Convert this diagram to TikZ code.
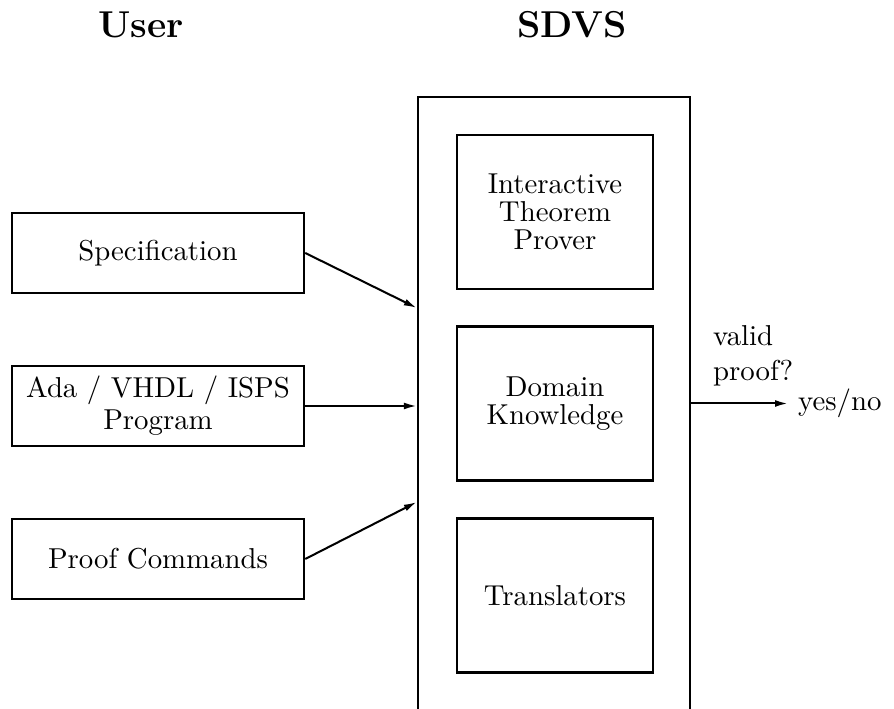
\documentclass[tikz,border=0pt]{standalone}
\usetikzlibrary{arrows.meta,positioning,calc}
\begin{document}
\begin{tikzpicture}[x=0.3472pt, y=-0.3472pt,
    box/.style={draw, line width=0.85pt, minimum width=101.4pt, minimum height=27.6pt, align=center, inner sep=0pt},
    part/.style={draw, line width=0.85pt, minimum width=68pt, minimum height=53.5pt, align=center, font=\fontsize{10}{9.8}\selectfont},
    title/.style={font=\fontsize{13}{15}\selectfont\bfseries, anchor=base},
    feed/.style={-{Latex[length=4.5pt,width=2.4pt]}, line width=0.7pt}]
  \useasboundingbox (0,0) rectangle (894,709);
  \clip (0,0) rectangle (894,709);

  \node[title] (user) at (141,38) {User};
  \node[title] (sys) at (572,38) {SDVS};

  % the SDVS frame runs off the bottom edge
  \node[draw, line width=0.85pt, minimum width=94.4pt, minimum height=222pt, anchor=north] (sdvs) at (554,96) {};
  \node[part] (itp) at (555,212) {Interactive\\Theorem\\Prover};
  \node[part] (dk) at (555,403.5) {Domain\\Knowledge};
  \node[part] (tr) at (555,595.5) {Translators};

  \node[box] (spec) at (158,253) {Specification};
  \node[box, font=\fontsize{10}{11}\selectfont] (prog) at (158,406) {Ada / VHDL / ISPS\\Program};
  \node[box] (cmd) at (158,559) {Proof Commands};

  \coordinate (in2) at (prog.east -| sdvs.west);
  \draw[feed] (spec.east) -- ($(in2)+(0,-98)$);
  \draw[feed] (prog.east) -- (in2);
  \draw[feed] (cmd.east) -- ($(in2)+(0,96)$);

  \node[anchor=west] (ans) at (788,403.5) {yes/no};
  \draw[feed] (dk.east -| sdvs.east) -- (ans.west);
  \node[anchor=south west, align=left] (vp) at (703,396) {valid\\proof?};
\end{tikzpicture}
\end{document}
